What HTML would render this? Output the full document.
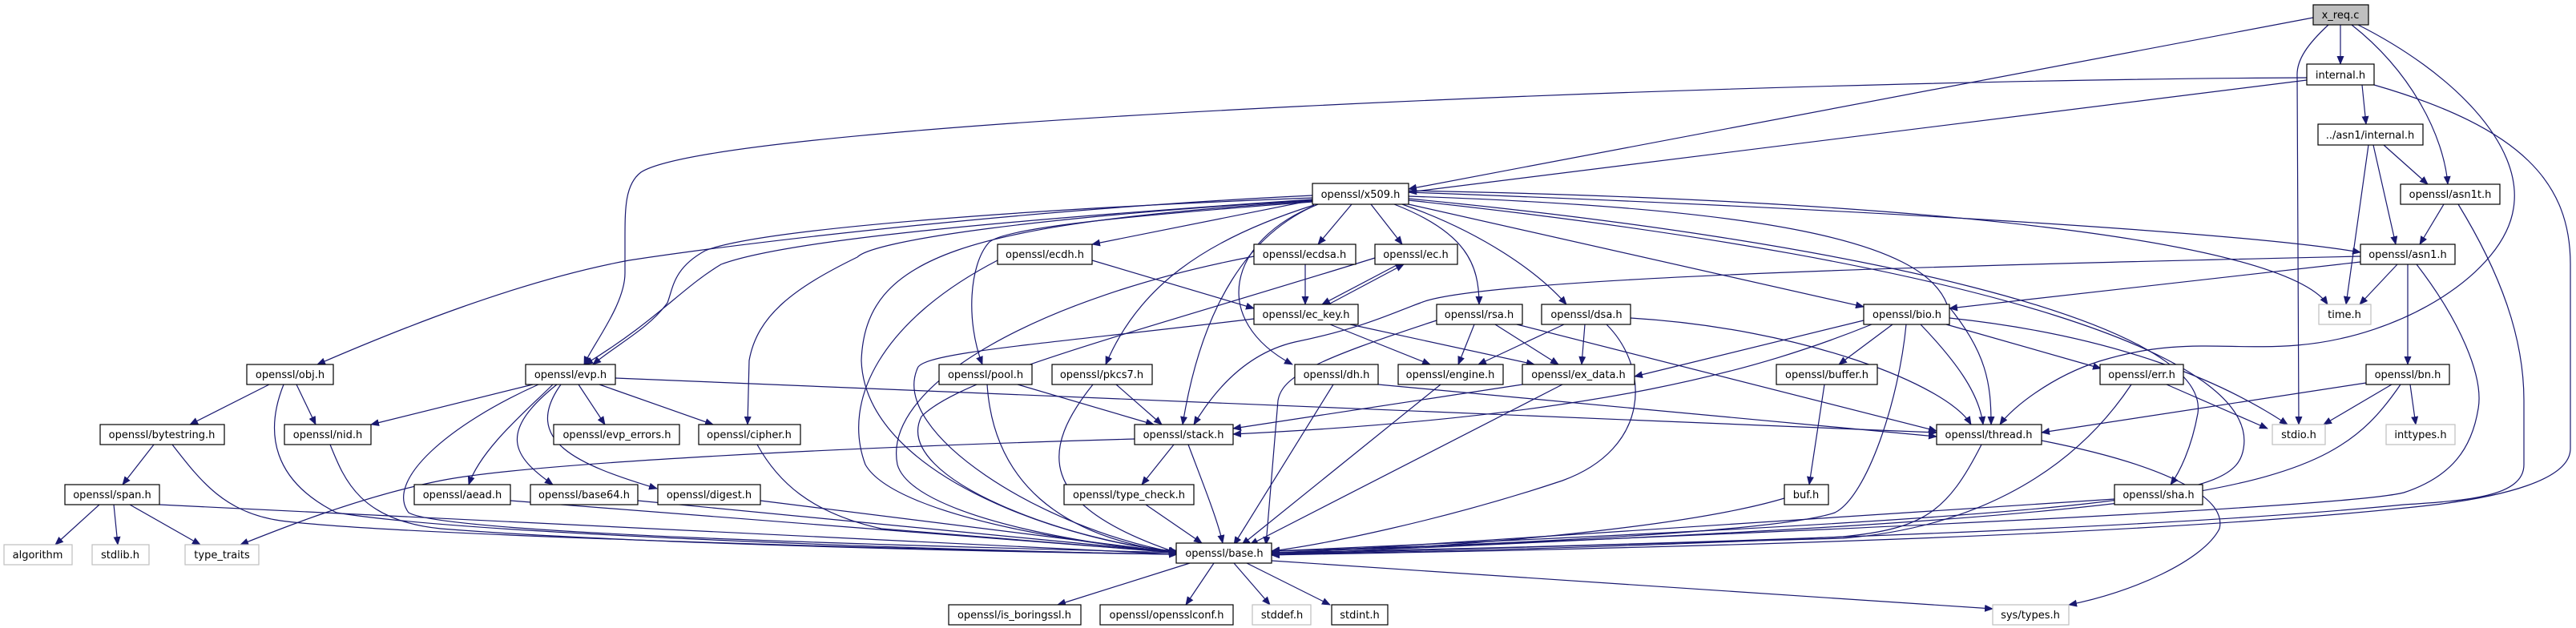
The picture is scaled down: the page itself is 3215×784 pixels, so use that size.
<!DOCTYPE html>
<html><head><meta charset="utf-8"><style>
html,body{margin:0;padding:0;background:#fff}
svg{display:block}
text{font-family:"DejaVu Sans","Liberation Sans",sans-serif;font-size:13px;fill:#000}
</style></head><body>
<svg width="3215" height="784" viewBox="0 0 3215 784" xmlns="http://www.w3.org/2000/svg">
<defs><marker id="a" markerUnits="userSpaceOnUse" markerWidth="11" markerHeight="9" refX="10" refY="4.5" orient="auto"><path d="M0,0 L11,4.5 L0,9 z" fill="#191970"/></marker></defs>
<g fill="none" stroke="#191970" stroke-width="1.2" marker-end="url(#a)">
<path d="M2921 31 L2921 80"/>
<path d="M2887 22 L1758 236"/>
<path d="M2935 31 C3010 90,3050 170,3055 230"/>
<path d="M2943 31 C3060 90,3150 180,3137 260 C3125 340,3000 420,2867 431 C2780 438,2720 420,2620 451 C2560 470,2510 510,2496 530"/>
<path d="M2906 31 C2880 55,2866 75,2867 95 L2869 530"/>
<path d="M2879 97 C2200 100,900 150,800 215 C780 230,780 260,780 300 L780 341 C780 380,740 430,729 455"/>
<path d="M2879 100 L1758 240"/>
<path d="M2948 106 L2953 155"/>
<path d="M2963 106 C3150 160,3208 230,3208 330 L3208 560 C3208 600,3120 620,3040 630 C2600 680,1700 690,1587 693"/>
<path d="M2975 181 L3030 230"/>
<path d="M2962 181 L2990 305"/>
<path d="M2956 181 L2928 380"/>
<path d="M3050 255 L3020 305"/>
<path d="M3068 255 C3120 340,3150 420,3150 500 L3150 580 C3150 620,3080 625,3000 630 C2600 670,1700 688,1587 690"/>
<path d="M2992 330 L2945 380"/>
<path d="M3005 330 L3005 455"/>
<path d="M2946 327 L2433 385"/>
<path d="M3016 330 C3070 400,3100 470,3093 510 C3085 560,3060 595,3000 615 C2900 640,1700 685,1587 690"/>
<path d="M2946 320 C2500 330,1850 345,1773 378 C1740 390,1700 410,1616 427 C1560 440,1520 480,1490 530"/>
<path d="M1638 244 C1300 260,950 300,785 325 C650 350,500 410,396 455"/>
<path d="M1638 247 C1300 260,950 285,880 313 C840 335,840 360,833 378 C810 410,770 430,740 455"/>
<path d="M1638 249 C1250 275,980 300,900 330 C850 360,820 400,730 455"/>
<path d="M1640 250 C1300 270,1090 300,1070 321 C990 360,945 394,935 450 L933 530"/>
<path d="M1638 250 L1363 305"/>
<path d="M1687 255 L1645 305"/>
<path d="M1711 255 L1750 305"/>
<path d="M1740 255 C1830 290,1846 330,1846 380"/>
<path d="M1750 255 C1850 290,1920 340,1955 380"/>
<path d="M1758 255 L2326 383"/>
<path d="M1638 252 C1400 270,1250 285,1234 303 C1210 330,1205 400,1226 455"/>
<path d="M1640 256 C1500 300,1420 360,1380 455"/>
<path d="M1645 255 C1560 290,1500 380,1476 530"/>
<path d="M1645 255 C1530 300,1510 400,1613 455"/>
<path d="M1638 251 C1200 280,1080 320,1075 450 C1080 600,1350 680,1469 688"/>
<path d="M1758 245 C2200 260,2400 300,2430 380 C2480 440,2485 480,2485 530"/>
<path d="M1758 240 C2300 260,2800 290,2946 315"/>
<path d="M1758 238 C2400 250,2850 300,2905 380"/>
<path d="M1758 248 C2300 300,2760 400,2743 516 C2735 560,2720 590,2709 605"/>
<path d="M1758 250 C2500 330,2820 450,2800 560 C2790 620,2700 640,1587 688"/>
<path d="M1363 325 L1565 385"/>
<path d="M1245 325 C1100 400,1050 500,1080 580 C1120 650,1400 686,1469 688"/>
<path d="M1629 330 L1629 380"/>
<path d="M1565 320 C1300 370,1100 480,1120 580 C1140 650,1400 686,1469 689"/>
<path d="M1745 330 L1650 380"/>
<path d="M1658 380 L1752 330"/>
<path d="M1716 322 C1400 420,1200 470,1150 520 C1110 600,1350 680,1469 688"/>
<path d="M1660 405 L1785 455"/>
<path d="M1685 405 L1915 455"/>
<path d="M1565 398 C1300 430,1150 440,1145 460 C1110 540,1300 660,1469 690"/>
<path d="M1840 405 L1820 455"/>
<path d="M1866 405 L1945 455"/>
<path d="M1893 405 L2417 538"/>
<path d="M1793 400 C1640 450,1600 470,1595 500 L1580 680"/>
<path d="M1952 405 L1845 455"/>
<path d="M1978 405 L1974 455"/>
<path d="M2035 397 C2250 410,2430 480,2460 530"/>
<path d="M2005 405 C2060 460,2060 560,1950 600 C1800 650,1650 680,1587 688"/>
<path d="M2326 400 L2040 470"/>
<path d="M2336 405 C2200 460,2000 520,1539 542"/>
<path d="M2362 405 L2295 455"/>
<path d="M2379 405 C2370 500,2330 620,2290 640 C2200 670,1700 685,1587 688"/>
<path d="M2397 405 C2440 450,2470 490,2475 530"/>
<path d="M2429 405 L2622 460"/>
<path d="M2433 397 C2650 420,2780 480,2855 530"/>
<path d="M1270 480 L1440 530"/>
<path d="M1232 480 C1240 600,1320 670,1469 690"/>
<path d="M1393 480 L1450 530"/>
<path d="M1364 480 C1300 560,1290 630,1469 690"/>
<path d="M1720 480 L2417 545"/>
<path d="M1664 480 L1540 680"/>
<path d="M1798 480 L1550 680"/>
<path d="M1900 480 L1539 535"/>
<path d="M1950 480 L1560 680"/>
<path d="M665 480 L463 530"/>
<path d="M768 472 L2417 540"/>
<path d="M722 480 L755 530"/>
<path d="M748 480 L890 530"/>
<path d="M690 480 C660 510,600 560,585 605"/>
<path d="M695 480 C620 540,640 570,690 605"/>
<path d="M700 480 C650 550,720 580,820 610"/>
<path d="M672 480 C560 530,480 600,510 640 C560 670,1300 685,1469 690"/>
<path d="M336 480 L237 530"/>
<path d="M370 480 L394 530"/>
<path d="M354 480 C330 540,340 600,420 640 C600 670,1300 690,1469 692"/>
<path d="M215 555 C250 600,280 640,350 650 C500 670,1300 690,1469 692"/>
<path d="M192 555 L153 605"/>
<path d="M412 555 C430 600,450 650,550 660 C800 680,1300 690,1469 692"/>
<path d="M945 555 C970 600,1010 640,1100 660 L1469 690"/>
<path d="M124 630 L69 680"/>
<path d="M142 630 L147 680"/>
<path d="M162 630 L250 680"/>
<path d="M199 630 L1469 692"/>
<path d="M637 625 L1469 690"/>
<path d="M796 625 L1469 690"/>
<path d="M949 625 L1469 690"/>
<path d="M1465 555 L1425 605"/>
<path d="M1483 555 C1500 600,1520 650,1526 678"/>
<path d="M1416 548 C1000 560,650 580,550 600 C450 620,350 660,300 680"/>
<path d="M1430 630 L1500 678"/>
<path d="M2473 555 C2430 640,2400 660,2300 670 C2000 685,1700 690,1587 692"/>
<path d="M2548 550 C2700 580,2780 620,2770 660 C2750 700,2660 740,2582 755"/>
<path d="M2704 480 L2830 535"/>
<path d="M2660 480 C2580 600,2450 660,2300 672 L1587 692"/>
<path d="M2277 480 L2258 605"/>
<path d="M2227 622 C2100 660,1800 685,1587 692"/>
<path d="M2639 623 L1587 692"/>
<path d="M2953 478 L2548 540"/>
<path d="M2985 480 L2900 530"/>
<path d="M3008 480 L3015 530"/>
<path d="M2996 480 C2900 620,2800 640,1587 692"/>
<path d="M1485 703 L1320 755"/>
<path d="M1515 703 L1480 755"/>
<path d="M1540 703 L1585 755"/>
<path d="M1556 703 L1660 755"/>
<path d="M1587 700 L2487 760"/>
</g>
<g stroke-width="1.2">
<!-- boxes: x,y,w,h -->
<rect x="2887" y="6" width="69" height="25" fill="#bfbfbf" stroke="#000"/><text x="2921" y="23" text-anchor="middle">x_req.c</text>
<rect x="2879" y="80" width="84" height="26" fill="#fff" stroke="#000"/><text x="2921" y="98" text-anchor="middle">internal.h</text>
<rect x="2893" y="155" width="131" height="26" fill="#fff" stroke="#000"/><text x="2958" y="173" text-anchor="middle">../asn1/internal.h</text>
<rect x="1638" y="229" width="120" height="26" fill="#fff" stroke="#000"/><text x="1698" y="247" text-anchor="middle">openssl/x509.h</text>
<rect x="2996" y="230" width="124" height="25" fill="#fff" stroke="#000"/><text x="3058" y="247" text-anchor="middle">openssl/asn1t.h</text>
<rect x="2946" y="305" width="118" height="25" fill="#fff" stroke="#000"/><text x="3005" y="322" text-anchor="middle">openssl/asn1.h</text>
<rect x="1245" y="305" width="118" height="25" fill="#fff" stroke="#000"/><text x="1304" y="322" text-anchor="middle">openssl/ecdh.h</text>
<rect x="1565" y="305" width="127" height="25" fill="#fff" stroke="#000"/><text x="1628" y="322" text-anchor="middle">openssl/ecdsa.h</text>
<rect x="1716" y="305" width="103" height="25" fill="#fff" stroke="#000"/><text x="1767" y="322" text-anchor="middle">openssl/ec.h</text>
<rect x="1565" y="380" width="130" height="25" fill="#fff" stroke="#000"/><text x="1630" y="397" text-anchor="middle">openssl/ec_key.h</text>
<rect x="1793" y="380" width="107" height="25" fill="#fff" stroke="#000"/><text x="1846" y="397" text-anchor="middle">openssl/rsa.h</text>
<rect x="1924" y="380" width="111" height="25" fill="#fff" stroke="#000"/><text x="1980" y="397" text-anchor="middle">openssl/dsa.h</text>
<rect x="2326" y="380" width="107" height="25" fill="#fff" stroke="#000"/><text x="2380" y="397" text-anchor="middle">openssl/bio.h</text>
<rect x="2894" y="380" width="65" height="25" fill="#fff" stroke="#bfbfbf"/><text x="2926" y="397" text-anchor="middle">time.h</text>
<rect x="308" y="455" width="108" height="25" fill="#fff" stroke="#000"/><text x="362" y="472" text-anchor="middle">openssl/obj.h</text>
<rect x="656" y="455" width="112" height="25" fill="#fff" stroke="#000"/><text x="712" y="472" text-anchor="middle">openssl/evp.h</text>
<rect x="1172" y="455" width="116" height="25" fill="#fff" stroke="#000"/><text x="1230" y="472" text-anchor="middle">openssl/pool.h</text>
<rect x="1313" y="455" width="125" height="25" fill="#fff" stroke="#000"/><text x="1375" y="472" text-anchor="middle">openssl/pkcs7.h</text>
<rect x="1616" y="455" width="104" height="25" fill="#fff" stroke="#000"/><text x="1668" y="472" text-anchor="middle">openssl/dh.h</text>
<rect x="1745" y="455" width="131" height="25" fill="#fff" stroke="#000"/><text x="1810" y="472" text-anchor="middle">openssl/engine.h</text>
<rect x="1900" y="455" width="140" height="25" fill="#fff" stroke="#000"/><text x="1970" y="472" text-anchor="middle">openssl/ex_data.h</text>
<rect x="2217" y="455" width="126" height="25" fill="#fff" stroke="#000"/><text x="2280" y="472" text-anchor="middle">openssl/buffer.h</text>
<rect x="2621" y="455" width="104" height="25" fill="#fff" stroke="#000"/><text x="2673" y="472" text-anchor="middle">openssl/err.h</text>
<rect x="2953" y="455" width="104" height="25" fill="#fff" stroke="#000"/><text x="3005" y="472" text-anchor="middle">openssl/bn.h</text>
<rect x="125" y="530" width="155" height="25" fill="#fff" stroke="#000"/><text x="202" y="547" text-anchor="middle">openssl/bytestring.h</text>
<rect x="355" y="530" width="108" height="25" fill="#fff" stroke="#000"/><text x="409" y="547" text-anchor="middle">openssl/nid.h</text>
<rect x="691" y="530" width="157" height="25" fill="#fff" stroke="#000"/><text x="770" y="547" text-anchor="middle">openssl/evp_errors.h</text>
<rect x="872" y="530" width="127" height="25" fill="#fff" stroke="#000"/><text x="935" y="547" text-anchor="middle">openssl/cipher.h</text>
<rect x="1416" y="530" width="123" height="25" fill="#fff" stroke="#000"/><text x="1477" y="547" text-anchor="middle">openssl/stack.h</text>
<rect x="2417" y="530" width="131" height="25" fill="#fff" stroke="#000"/><text x="2482" y="547" text-anchor="middle">openssl/thread.h</text>
<rect x="2836" y="530" width="66" height="25" fill="#fff" stroke="#bfbfbf"/><text x="2869" y="547" text-anchor="middle">stdio.h</text>
<rect x="2978" y="530" width="86" height="25" fill="#fff" stroke="#bfbfbf"/><text x="3021" y="547" text-anchor="middle">inttypes.h</text>
<rect x="81" y="605" width="118" height="25" fill="#fff" stroke="#000"/><text x="140" y="622" text-anchor="middle">openssl/span.h</text>
<rect x="517" y="605" width="120" height="25" fill="#fff" stroke="#000"/><text x="577" y="622" text-anchor="middle">openssl/aead.h</text>
<rect x="662" y="605" width="134" height="25" fill="#fff" stroke="#000"/><text x="729" y="622" text-anchor="middle">openssl/base64.h</text>
<rect x="821" y="605" width="128" height="25" fill="#fff" stroke="#000"/><text x="885" y="622" text-anchor="middle">openssl/digest.h</text>
<rect x="1328" y="605" width="162" height="25" fill="#fff" stroke="#000"/><text x="1409" y="622" text-anchor="middle">openssl/type_check.h</text>
<rect x="2227" y="605" width="55" height="25" fill="#fff" stroke="#000"/><text x="2254" y="622" text-anchor="middle">buf.h</text>
<rect x="2639" y="605" width="110" height="25" fill="#fff" stroke="#000"/><text x="2694" y="622" text-anchor="middle">openssl/sha.h</text>
<rect x="5" y="680" width="85" height="25" fill="#fff" stroke="#bfbfbf"/><text x="47" y="697" text-anchor="middle">algorithm</text>
<rect x="115" y="680" width="71" height="25" fill="#fff" stroke="#bfbfbf"/><text x="150" y="697" text-anchor="middle">stdlib.h</text>
<rect x="231" y="680" width="92" height="25" fill="#fff" stroke="#bfbfbf"/><text x="277" y="697" text-anchor="middle">type_traits</text>
<rect x="1468" y="678" width="119" height="25" fill="#fff" stroke="#000"/><text x="1528" y="695" text-anchor="middle">openssl/base.h</text>
<rect x="1184" y="755" width="165" height="25" fill="#fff" stroke="#000"/><text x="1266" y="772" text-anchor="middle">openssl/is_boringssl.h</text>
<rect x="1373" y="755" width="166" height="25" fill="#fff" stroke="#000"/><text x="1456" y="772" text-anchor="middle">openssl/opensslconf.h</text>
<rect x="1563" y="755" width="73" height="25" fill="#fff" stroke="#bfbfbf"/><text x="1600" y="772" text-anchor="middle">stddef.h</text>
<rect x="1662" y="755" width="70" height="25" fill="#fff" stroke="#000"/><text x="1697" y="772" text-anchor="middle">stdint.h</text>
<rect x="2487" y="755" width="95" height="25" fill="#fff" stroke="#bfbfbf"/><text x="2534" y="772" text-anchor="middle">sys/types.h</text>
</g>
</svg>
</body></html>
